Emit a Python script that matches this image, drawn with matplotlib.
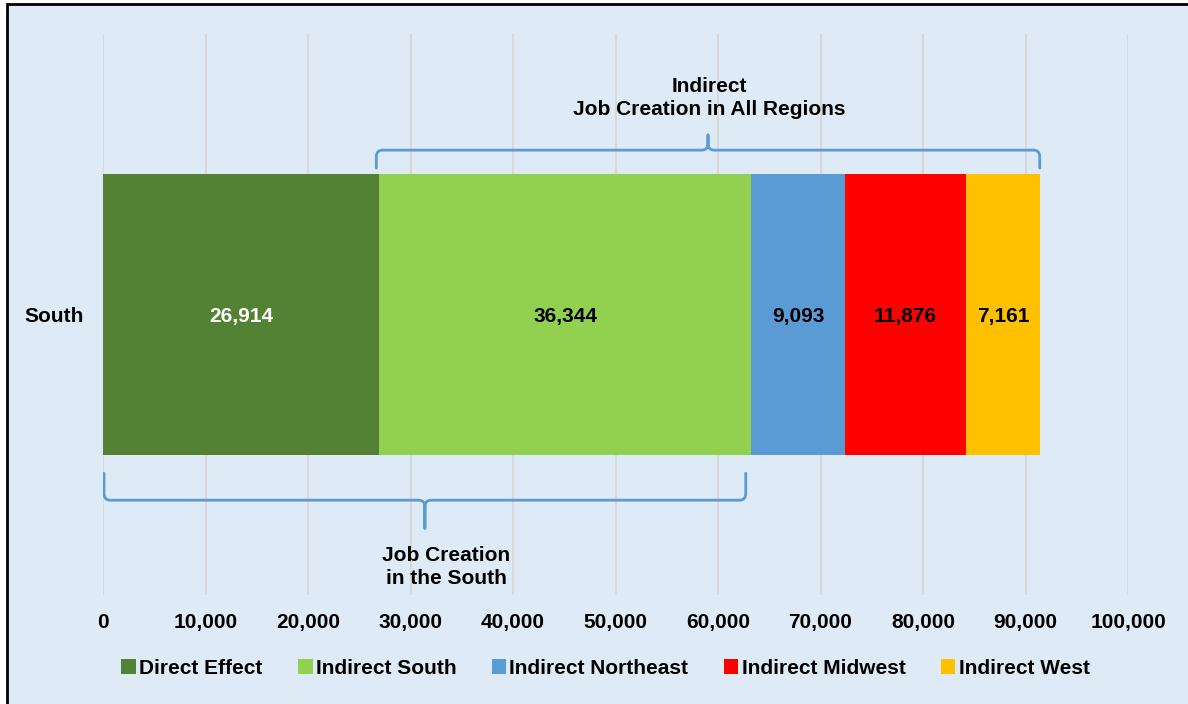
import matplotlib.pyplot as plt
from matplotlib.patches import Rectangle, PathPatch
from matplotlib.path import Path

plt.rcParams['font.family'] = ['Liberation Sans', 'DejaVu Sans']
plt.rcParams['font.weight'] = 'bold'

region = 'South'
series = ['Direct Effect', 'Indirect South', 'Indirect Northeast',
          'Indirect Midwest', 'Indirect West']
values = [26914, 36344, 9093, 11876, 7161]
colors = ['#548235', '#92D050', '#5B9BD5', '#FF0000', '#FFC000']
label_colors = ['white', 'black', 'black', 'black', 'black']
xticks = list(range(0, 100001, 10000))

brace_color = '#5B9BD5'
bg = '#DEEAF6'


def brace(ax, x0, x1, y, tip, peak, rx=600, ry=0.012):
    # curly bracket drawn as two halves meeting at the peak
    xm = (x0 + x1) / 2
    d1 = ry if tip > y else -ry
    d2 = ry if peak > y else -ry
    verts = [(x0, tip), (x0, y + d1), (x0, y), (x0 + rx, y),
             (xm - rx, y), (xm, y), (xm, y + d2), (xm, peak),
             (x1, tip), (x1, y + d1), (x1, y), (x1 - rx, y),
             (xm + rx, y), (xm, y), (xm, y + d2), (xm, peak)]
    codes = [Path.MOVETO, Path.LINETO, Path.CURVE3, Path.CURVE3,
             Path.LINETO, Path.CURVE3, Path.CURVE3, Path.LINETO] * 2
    ax.add_patch(PathPatch(Path(verts, codes), fill=False,
                           edgecolor=brace_color, lw=2, zorder=3,
                           capstyle='round', joinstyle='round'))


fig = plt.figure(figsize=(11.88, 7.04), dpi=100)
fig.patches.append(Rectangle((7 / 1188, -0.02), 1.05, 1 - 4 / 704 + 0.02,
                             transform=fig.transFigure, facecolor=bg,
                             edgecolor='black', lw=2, zorder=-10))

ax = fig.add_axes([103 / 1188, 1 - 595 / 704, 1025 / 1188, 561 / 704])
ax.set_facecolor('none')

left = 0
for name, v, c, lc in zip(series, values, colors, label_colors):
    ax.barh(region, v, left=left, height=0.5, color=c, label=name, zorder=2)
    ax.text(left + v / 2, -0.003, f'{v:,}', ha='center', va='center',
            color=lc, fontsize=15, fontweight='bold', zorder=3)
    left += v

ax.set_xlim(0, 100000)
ax.set_ylim(-0.5, 0.5)
ax.set_xticks(xticks)
ax.set_xticklabels([f'{t:,}' for t in xticks])
ax.tick_params(axis='x', length=0, pad=13, labelsize=15)
ax.tick_params(axis='y', length=0, pad=14, labelsize=15)
ax.xaxis.grid(True, color='#D9D9D9', lw=1.5)
ax.set_axisbelow(True)
for s in ax.spines.values():
    s.set_visible(False)

# braces
total = sum(values)
south = values[0] + values[1]
brace(ax, values[0] - 250, total, 0.293, 0.261, 0.32)
brace(ax, 100, south - 550, -0.331, -0.283, -0.381)

ax.text((values[0] + total) / 2, 0.386, 'Indirect\nJob Creation in All Regions',
        ha='center', va='center', fontsize=15, fontweight='bold',
        linespacing=1.3)
ax.text(33500, -0.45, 'Job Creation\nin the South', ha='center',
        va='center', fontsize=15, fontweight='bold', linespacing=1.3)

fig.legend(loc='center', bbox_to_anchor=(0.5097, 0.0505), ncol=5,
           frameon=False, fontsize=15, handlelength=0.7, handleheight=0.7,
           handletextpad=0.15, columnspacing=1.7)

plt.savefig('out.png', dpi=100)
plt.close()
